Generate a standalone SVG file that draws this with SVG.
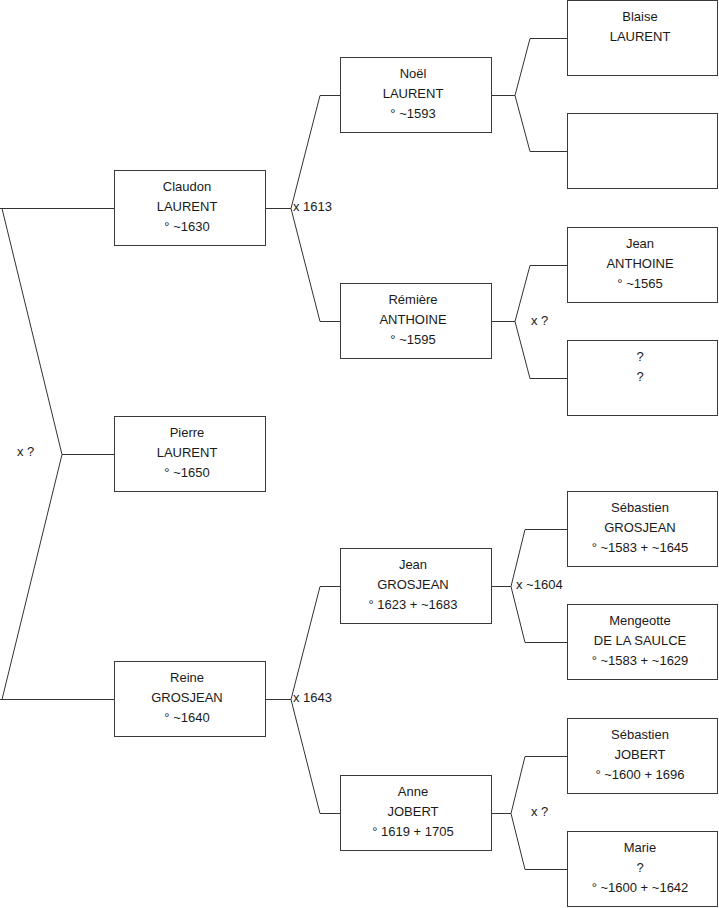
<svg xmlns="http://www.w3.org/2000/svg" width="719" height="908" viewBox="0 0 719 908">
<style>
.box{fill:#fff;stroke:#3a3a3a;stroke-width:1}
.ln{fill:none;stroke:#333;stroke-width:1}
text{font-family:"Liberation Sans",Arial,sans-serif;font-size:13px;fill:#1a1a1a}
.c{text-anchor:middle}
</style>
<rect width="719" height="908" fill="#fff"/>
<g id="connectors" class="ln">
<path d="M0,208.5H114.5M2,208.5L62,454.5L2,699.5M62,454.5H114.5M0,699.5H114.5"/>
<path d="M265.5,208.5H291M340.5,95.5H320L291,208.5L320,321.5H340.5"/>
<path d="M265.5,699.5H291M340.5,586.5H320L291,699.5L320,813.5H340.5"/>
<path d="M491.5,95.5H515M567.5,38.5H530L515,95.5L530,151.5H567.5"/>
<path d="M491.5,321.5H515M567.5,265.5H530L515,321.5L530,378.5H567.5"/>
<path d="M491.5,586.5H511M567.5,529.5H525L511,586.5L525,642.5H567.5"/>
<path d="M491.5,813.5H511M567.5,756.5H525L511,813.5L525,869.5H567.5"/>
</g>
<g id="labels">
<text x="17" y="456">x ?</text>
<text x="293" y="211">x 1613</text>
<text x="293" y="702">x 1643</text>
<text x="531" y="324.5">x ?</text>
<text x="516" y="589">x ~1604</text>
<text x="531" y="816">x ?</text>
</g>
<g id="claudon"><rect class="box" x="114.5" y="170.5" width="151" height="75"/>
<text class="c" x="187" y="190.5">Claudon</text><text class="c" x="187" y="210.5">LAURENT</text><text class="c" x="187" y="230.5">° ~1630</text></g>
<g id="pierre"><rect class="box" x="114.5" y="416.5" width="151" height="75"/>
<text class="c" x="187" y="436.5">Pierre</text><text class="c" x="187" y="456.5">LAURENT</text><text class="c" x="187" y="476.5">° ~1650</text></g>
<g id="reine"><rect class="box" x="114.5" y="661.5" width="151" height="75"/>
<text class="c" x="187" y="681.5">Reine</text><text class="c" x="187" y="701.5">GROSJEAN</text><text class="c" x="187" y="721.5">° ~1640</text></g>
<g id="noel"><rect class="box" x="340.5" y="57.5" width="151" height="75"/>
<text class="c" x="413" y="77.5">Noël</text><text class="c" x="413" y="97.5">LAURENT</text><text class="c" x="413" y="117.5">° ~1593</text></g>
<g id="remiere"><rect class="box" x="340.5" y="283.5" width="151" height="75"/>
<text class="c" x="413" y="303.5">Rémière</text><text class="c" x="413" y="323.5">ANTHOINE</text><text class="c" x="413" y="343.5">° ~1595</text></g>
<g id="jean-grosjean"><rect class="box" x="340.5" y="548.5" width="151" height="75"/>
<text class="c" x="413" y="568.5">Jean</text><text class="c" x="413" y="588.5">GROSJEAN</text><text class="c" x="413" y="608.5">° 1623 + ~1683</text></g>
<g id="anne"><rect class="box" x="340.5" y="775.5" width="151" height="75"/>
<text class="c" x="413" y="795.5">Anne</text><text class="c" x="413" y="815.5">JOBERT</text><text class="c" x="413" y="835.5">° 1619 + 1705</text></g>
<g id="blaise"><rect class="box" x="567.5" y="0.5" width="150" height="75"/>
<text class="c" x="640" y="20.5">Blaise</text><text class="c" x="640" y="40.5">LAURENT</text></g>
<g id="unknown1"><rect class="box" x="567.5" y="113.5" width="150" height="75"/></g>
<g id="jean-anthoine"><rect class="box" x="567.5" y="227.5" width="150" height="75"/>
<text class="c" x="640" y="247.5">Jean</text><text class="c" x="640" y="267.5">ANTHOINE</text><text class="c" x="640" y="287.5">° ~1565</text></g>
<g id="unknown2"><rect class="box" x="567.5" y="340.5" width="150" height="75"/>
<text class="c" x="640" y="360.5">?</text><text class="c" x="640" y="380.5">?</text></g>
<g id="sebastien-grosjean"><rect class="box" x="567.5" y="491.5" width="150" height="75"/>
<text class="c" x="640" y="511.5">Sébastien</text><text class="c" x="640" y="531.5">GROSJEAN</text><text class="c" x="640" y="551.5">° ~1583 + ~1645</text></g>
<g id="mengeotte"><rect class="box" x="567.5" y="604.5" width="150" height="75"/>
<text class="c" x="640" y="624.5">Mengeotte</text><text class="c" x="640" y="644.5">DE LA SAULCE</text><text class="c" x="640" y="664.5">° ~1583 + ~1629</text></g>
<g id="sebastien-jobert"><rect class="box" x="567.5" y="718.5" width="150" height="75"/>
<text class="c" x="640" y="738.5">Sébastien</text><text class="c" x="640" y="758.5">JOBERT</text><text class="c" x="640" y="778.5">° ~1600 + 1696</text></g>
<g id="marie"><rect class="box" x="567.5" y="831.5" width="150" height="75"/>
<text class="c" x="640" y="851.5">Marie</text><text class="c" x="640" y="871.5">?</text><text class="c" x="640" y="891.5">° ~1600 + ~1642</text></g>
</svg>
